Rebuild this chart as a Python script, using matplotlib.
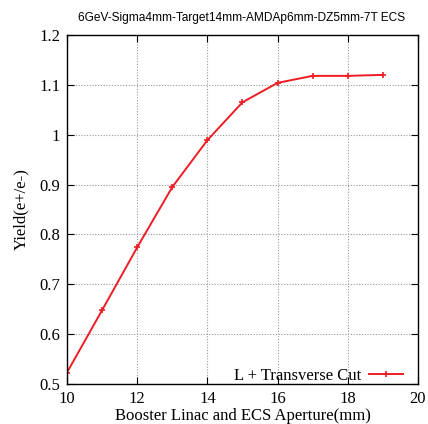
import matplotlib
matplotlib.use("Agg")
import matplotlib.pyplot as plt
from matplotlib.ticker import FuncFormatter

aperture = [10, 11, 12, 13, 14, 15, 16, 17, 18, 19]
yield_vals = [0.523, 0.648, 0.774, 0.895, 0.989, 1.065, 1.104, 1.118, 1.118, 1.120]
title = "6GeV-Sigma4mm-Target14mm-AMDAp6mm-DZ5mm-7T ECS"
series_label = "L + Transverse Cut"
xlabel = "Booster Linac and ECS Aperture(mm)"
ylabel = "Yield(e+/e-)"
xticks = [10, 12, 14, 16, 18, 20]
yticks = [0.5, 0.6, 0.7, 0.8, 0.9, 1.0, 1.1, 1.2]

serif = "Liberation Serif"
fig = plt.figure(figsize=(4.28, 4.24), dpi=100)
ax = fig.add_axes([0.1565, 0.0943, 0.8201, 0.8232])
ax.plot(aperture, yield_vals, color="#f01c24", lw=1.4, marker="+", ms=5, mew=1.2,
        label=series_label)
ax.set_xlim(10, 20)
ax.set_ylim(0.5, 1.2)
ax.set_xticks(xticks)
ax.set_yticks(yticks)
ax.yaxis.set_major_formatter(FuncFormatter(lambda v, p: f"{v:g}"))
ax.grid(True, color="#999999", linestyle=(0, (1, 1.5)), linewidth=0.8)
ax.tick_params(direction="in", top=True, right=True, length=5, width=0.8, labelsize=12, pad=5)
for lab in ax.get_xticklabels() + ax.get_yticklabels():
    lab.set_fontfamily(serif)
for s in ax.spines.values():
    s.set_linewidth(1.0)
ax.set_xlabel(xlabel, fontfamily=serif, fontsize=12, labelpad=1)
ax.set_ylabel(ylabel, fontfamily=serif, fontsize=12, labelpad=7)
fig.text(0.565, 0.958, title, ha="center", va="center", fontfamily="Liberation Sans", fontsize=8.6)
leg = ax.legend(loc="lower right", bbox_to_anchor=(0.966, -0.009), frameon=False, markerfirst=False,
                prop={"family": serif, "size": 12}, handlelength=2.0,
                borderaxespad=0, borderpad=0.2, handletextpad=0.5)
fig.savefig("out.png", dpi=100)
